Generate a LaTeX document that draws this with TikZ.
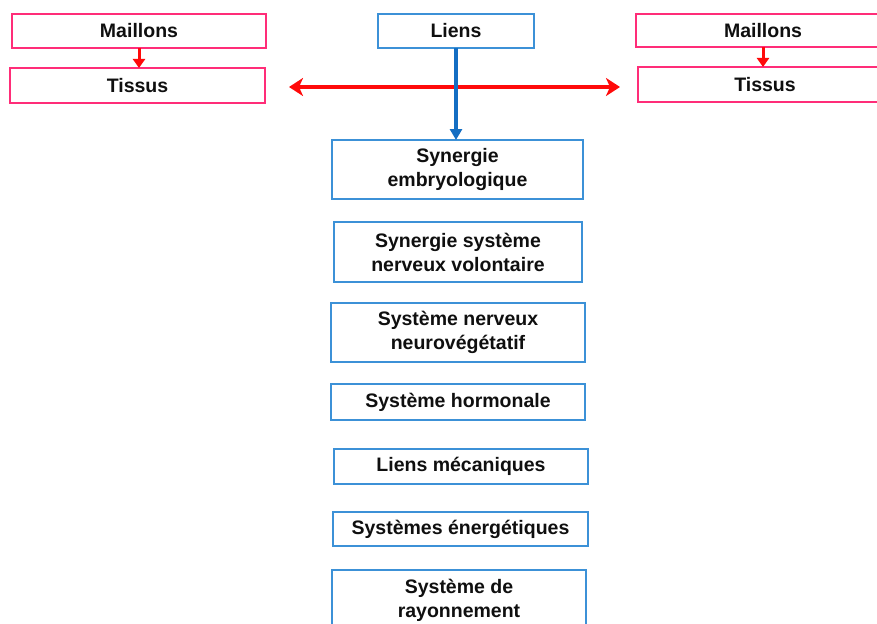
\documentclass[tikz,border=0pt]{standalone}
\usepackage{fontspec}
\setmainfont{Liberation Sans}
\usetikzlibrary{arrows.meta}
\definecolor{pinkb}{RGB}{255,45,120}
\definecolor{blueb}{RGB}{60,145,215}
\definecolor{bluea}{RGB}{20,110,195}
\definecolor{redarr}{RGB}{255,10,10}
\definecolor{txt}{RGB}{15,15,15}
\tikzset{
  base/.style={draw, line width=1.5pt, fill=white, inner sep=0pt, outer sep=0pt,
    font=\fontsize{19.5}{24}\selectfont\bfseries, text=txt, align=center},
  pinkbox/.style={base, draw=pinkb},
  bluebox/.style={base, draw=blueb},
  redshort/.style={draw=redarr, line width=3pt, -{Triangle[length=9pt,width=12pt]}},
  reddouble/.style={draw=redarr, line width=4.5pt, {Stealth[length=14pt,width=18pt,inset=4pt]}-{Stealth[length=14pt,width=18pt,inset=4pt]}},
  bluearr/.style={draw=bluea, line width=3.5pt, -{Triangle[length=11pt,width=12pt]}}
}
\begin{document}
\begin{tikzpicture}[x=1pt,y=-1pt]
\useasboundingbox (0,0) rectangle (877,623);
\clip (0,0) rectangle (877,623);
\fill[white] (0,0) rectangle (877,623);
% left
\node[pinkbox, minimum width=254pt, minimum height=34pt] (m1) at (139,31) {Maillons};
\node[pinkbox, minimum width=255pt, minimum height=35pt] (t1) at (137.5,85.5) {Tissus};
% center
\node[bluebox, minimum width=156pt, minimum height=34pt] (liens) at (456,31) {Liens};
% right
\node[pinkbox, minimum width=254pt, minimum height=33pt] (m2) at (763,30.5) {Maillons};
\node[pinkbox, minimum width=254pt, minimum height=35pt] (t2) at (765,84.5) {Tissus};
% column
\node[bluebox, minimum width=251pt, minimum height=59pt] (b1) at (457.5,169.5) {Synergie\\embryologique};
\node[bluebox, minimum width=248pt, minimum height=60pt] (b2) at (458,252) {Synergie système\\nerveux volontaire};
\node[bluebox, minimum width=254pt, minimum height=59pt] (b3) at (458,332.5) {Système nerveux\\neurovégétatif};
\node[bluebox, minimum width=254pt, minimum height=36pt] (b4) at (458,402) {Système hormonale};
\node[bluebox, minimum width=254pt, minimum height=35pt] (b5) at (461,466.5) {Liens mécaniques};
\node[bluebox, minimum width=255pt, minimum height=34pt] (b6) at (460.5,529) {Systèmes énergétiques};
\node[bluebox, minimum width=254pt, minimum height=60pt, anchor=north] (b7) at (459,570) {Système de\\rayonnement};
% arrows
\draw[redshort] (m1.south) -- (t1.north -| m1.south);
\draw[redshort] (m2.south) -- (t2.north -| m2.south);
\coordinate (la) at (289,87);
\coordinate (ra) at (620,87);
\draw[reddouble] (la) -- (ra);
\draw[bluearr] (liens.south) -- (b1.north -| liens.south);
\end{tikzpicture}
\end{document}
